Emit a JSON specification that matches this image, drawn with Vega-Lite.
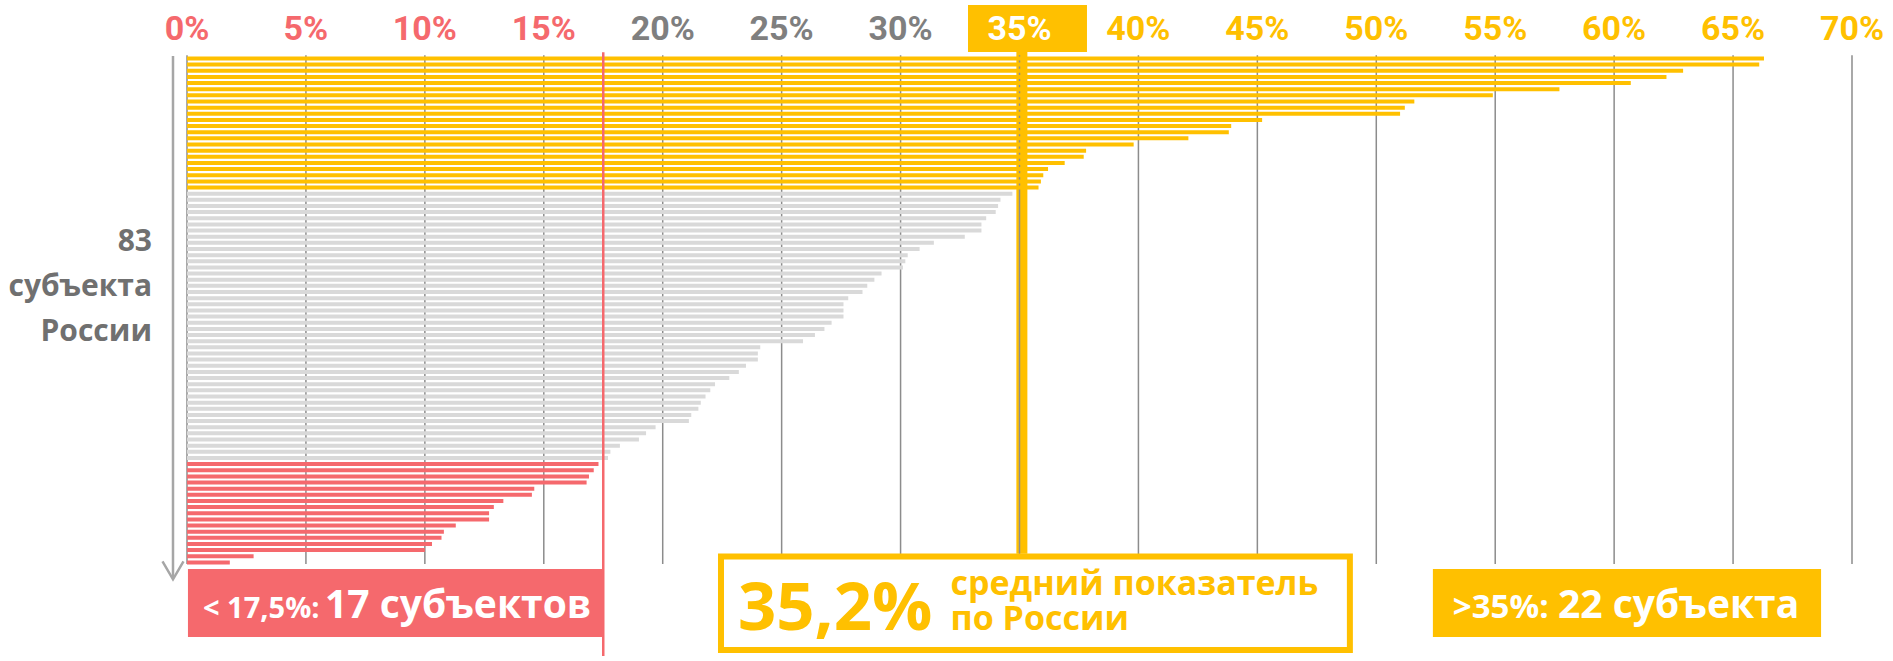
{
  "$schema": "https://vega.github.io/schema/vega-lite/v6.json",
  "width": 1893,
  "height": 661,
  "padding": 0,
  "autosize": {"type": "none"},
  "background": "white",
  "config": {"view": {"stroke": null}, "font": "Open Sans"},
  "data": {"values": [{}]},
  "datasets": {
    "bars": [
      {"rank": 1, "value": 66.3, "group": "high"},
      {"rank": 2, "value": 66.1, "group": "high"},
      {"rank": 3, "value": 62.9, "group": "high"},
      {"rank": 4, "value": 62.2, "group": "high"},
      {"rank": 5, "value": 60.7, "group": "high"},
      {"rank": 6, "value": 57.7, "group": "high"},
      {"rank": 7, "value": 54.9, "group": "high"},
      {"rank": 8, "value": 51.6, "group": "high"},
      {"rank": 9, "value": 51.2, "group": "high"},
      {"rank": 10, "value": 51.0, "group": "high"},
      {"rank": 11, "value": 45.2, "group": "high"},
      {"rank": 12, "value": 43.9, "group": "high"},
      {"rank": 13, "value": 43.8, "group": "high"},
      {"rank": 14, "value": 42.1, "group": "high"},
      {"rank": 15, "value": 39.8, "group": "high"},
      {"rank": 16, "value": 37.8, "group": "high"},
      {"rank": 17, "value": 37.7, "group": "high"},
      {"rank": 18, "value": 36.9, "group": "high"},
      {"rank": 19, "value": 36.2, "group": "high"},
      {"rank": 20, "value": 36.0, "group": "high"},
      {"rank": 21, "value": 35.9, "group": "high"},
      {"rank": 22, "value": 35.8, "group": "high"},
      {"rank": 23, "value": 34.7, "group": "mid"},
      {"rank": 24, "value": 34.2, "group": "mid"},
      {"rank": 25, "value": 34.1, "group": "mid"},
      {"rank": 26, "value": 34.0, "group": "mid"},
      {"rank": 27, "value": 33.6, "group": "mid"},
      {"rank": 28, "value": 33.4, "group": "mid"},
      {"rank": 29, "value": 33.4, "group": "mid"},
      {"rank": 30, "value": 32.7, "group": "mid"},
      {"rank": 31, "value": 31.4, "group": "mid"},
      {"rank": 32, "value": 30.8, "group": "mid"},
      {"rank": 33, "value": 30.3, "group": "mid"},
      {"rank": 34, "value": 30.2, "group": "mid"},
      {"rank": 35, "value": 30.1, "group": "mid"},
      {"rank": 36, "value": 29.2, "group": "mid"},
      {"rank": 37, "value": 28.9, "group": "mid"},
      {"rank": 38, "value": 28.6, "group": "mid"},
      {"rank": 39, "value": 28.4, "group": "mid"},
      {"rank": 40, "value": 27.8, "group": "mid"},
      {"rank": 41, "value": 27.6, "group": "mid"},
      {"rank": 42, "value": 27.6, "group": "mid"},
      {"rank": 43, "value": 27.6, "group": "mid"},
      {"rank": 44, "value": 27.1, "group": "mid"},
      {"rank": 45, "value": 26.8, "group": "mid"},
      {"rank": 46, "value": 26.4, "group": "mid"},
      {"rank": 47, "value": 25.9, "group": "mid"},
      {"rank": 48, "value": 24.1, "group": "mid"},
      {"rank": 49, "value": 24.0, "group": "mid"},
      {"rank": 50, "value": 24.0, "group": "mid"},
      {"rank": 51, "value": 23.5, "group": "mid"},
      {"rank": 52, "value": 23.2, "group": "mid"},
      {"rank": 53, "value": 22.8, "group": "mid"},
      {"rank": 54, "value": 22.2, "group": "mid"},
      {"rank": 55, "value": 22.0, "group": "mid"},
      {"rank": 56, "value": 21.8, "group": "mid"},
      {"rank": 57, "value": 21.6, "group": "mid"},
      {"rank": 58, "value": 21.5, "group": "mid"},
      {"rank": 59, "value": 21.2, "group": "mid"},
      {"rank": 60, "value": 21.1, "group": "mid"},
      {"rank": 61, "value": 19.7, "group": "mid"},
      {"rank": 62, "value": 19.3, "group": "mid"},
      {"rank": 63, "value": 19.0, "group": "mid"},
      {"rank": 64, "value": 18.2, "group": "mid"},
      {"rank": 65, "value": 17.8, "group": "mid"},
      {"rank": 66, "value": 17.7, "group": "mid"},
      {"rank": 67, "value": 17.3, "group": "low"},
      {"rank": 68, "value": 17.1, "group": "low"},
      {"rank": 69, "value": 16.9, "group": "low"},
      {"rank": 70, "value": 16.8, "group": "low"},
      {"rank": 71, "value": 14.6, "group": "low"},
      {"rank": 72, "value": 14.5, "group": "low"},
      {"rank": 73, "value": 13.3, "group": "low"},
      {"rank": 74, "value": 12.9, "group": "low"},
      {"rank": 75, "value": 12.7, "group": "low"},
      {"rank": 76, "value": 12.7, "group": "low"},
      {"rank": 77, "value": 11.3, "group": "low"},
      {"rank": 78, "value": 10.8, "group": "low"},
      {"rank": 79, "value": 10.7, "group": "low"},
      {"rank": 80, "value": 10.3, "group": "low"},
      {"rank": 81, "value": 10.0, "group": "low"},
      {"rank": 82, "value": 2.8, "group": "low"},
      {"rank": 83, "value": 1.8, "group": "low"}
    ],
    "ticks": [
      {"v": 0, "label": "0%"}, {"v": 5, "label": "5%"}, {"v": 10, "label": "10%"}, {"v": 15, "label": "15%"},
      {"v": 20, "label": "20%"}, {"v": 25, "label": "25%"}, {"v": 30, "label": "30%"}, {"v": 35, "label": "35%"},
      {"v": 40, "label": "40%"}, {"v": 45, "label": "45%"}, {"v": 50, "label": "50%"}, {"v": 55, "label": "55%"},
      {"v": 60, "label": "60%"}, {"v": 65, "label": "65%"}, {"v": 70, "label": "70%"}
    ]
  },
  "layer": [
    {
      "mark": {"type": "rule", "color": "#FFC000", "strokeWidth": 11},
      "encoding": {
        "x": {"datum": 35.1, "type": "quantitative", "scale": {"domain": [-7.862, 71.724], "nice": false, "zero": false}, "axis": null},
        "y": {"datum": -0.06, "type": "quantitative", "scale": {"domain": [-7.702, 98.228], "reverse": true, "nice": false, "zero": false}, "axis": null},
        "y2": {"datum": 81.6}
      }
    },
    {
      "data": {"name": "ticks"},
      "mark": {"type": "rule", "color": "#8C8C8C", "strokeWidth": 1.5},
      "encoding": {
        "x": {"field": "v", "type": "quantitative"},
        "y": {"datum": 0.47, "type": "quantitative"},
        "y2": {"datum": 83.24}
      }
    },
    {
      "data": {"name": "bars"},
      "mark": {"type": "bar", "orient": "horizontal", "size": 4},
      "encoding": {
        "x": {"field": "value", "type": "quantitative"},
        "y": {"field": "rank", "type": "quantitative"},
        "color": {
          "field": "group", "type": "nominal",
          "scale": {"domain": ["high", "mid", "low"], "range": ["#FFC000", "#D9D9D9", "#F5696D"]},
          "legend": null
        }
      }
    },
    {
      "mark": {"type": "rule", "color": "#F5696D", "strokeWidth": 2.5},
      "encoding": {
        "x": {"datum": 17.5, "type": "quantitative"},
        "y": {"datum": -0.01, "type": "quantitative"},
        "y2": {"datum": 98.228}
      }
    },
    {
      "mark": {"type": "rect", "color": "#FFC000"},
      "encoding": {
        "x": {"datum": 32.835, "type": "quantitative"},
        "x2": {"datum": 37.837},
        "y": {"datum": -7.702, "type": "quantitative"},
        "y2": {"datum": -0.058}
      }
    },
    {
      "data": {"name": "ticks"},
      "mark": {"type": "text", "align": "center", "baseline": "alphabetic", "font": "Roboto", "fontSize": 34, "fontWeight": "bold"},
      "encoding": {
        "x": {"field": "v", "type": "quantitative"},
        "y": {"datum": -2.01, "type": "quantitative"},
        "text": {"field": "label", "type": "nominal"},
        "color": {
          "condition": [
            {"test": "datum.v < 17.5", "value": "#F5696D"},
            {"test": "datum.v < 34", "value": "#7F7F7F"},
            {"test": "datum.v < 36", "value": "#FFFFFF"}
          ],
          "value": "#FFC000"
        }
      }
    },
    {
      "mark": {"type": "rule", "color": "#A6A6A6", "strokeWidth": 2.5},
      "encoding": {
        "x": {"datum": -0.589, "type": "quantitative"},
        "y": {"datum": 0.583, "type": "quantitative"},
        "y2": {"datum": 85.4}
      }
    },
    {
      "mark": {"type": "point", "shape": "M-1,-0.85L0,0.85L1,-0.85", "filled": false, "stroke": "#A6A6A6", "strokeWidth": 2.5, "size": 441, "opacity": 1},
      "encoding": {
        "x": {"datum": -0.589, "type": "quantitative"},
        "y": {"datum": 84.29, "type": "quantitative"}
      }
    },
    {
      "mark": {"type": "text", "text": ["83", "субъекта", "России"], "align": "right", "baseline": "alphabetic", "lineHeight": 45, "font": "Open Sans", "fontSize": 30, "fontWeight": "bold", "color": "#707070"},
      "encoding": {
        "x": {"datum": -1.471, "type": "quantitative"},
        "y": {"datum": 32.36, "type": "quantitative"}
      }
    },
    {
      "mark": {"type": "rect", "color": "#F5696D"},
      "encoding": {
        "x": {"datum": 0.04, "type": "quantitative"},
        "x2": {"datum": 17.53},
        "y": {"datum": 84.08, "type": "quantitative"},
        "y2": {"datum": 95.13}
      }
    },
    {
      "mark": {"type": "text", "text": "< 17,5%:", "align": "left", "baseline": "alphabetic", "font": "Open Sans", "fontSize": 29, "fontWeight": "bold", "color": "white"},
      "encoding": {
        "x": {"datum": 0.673, "type": "quantitative"},
        "y": {"datum": 91.98, "type": "quantitative"}
      }
    },
    {
      "mark": {"type": "text", "text": "17 субъектов", "align": "left", "baseline": "alphabetic", "font": "Open Sans", "fontSize": 39, "fontWeight": "bold", "color": "white"},
      "encoding": {
        "x": {"datum": 5.8, "type": "quantitative"},
        "y": {"datum": 92.0, "type": "quantitative"}
      }
    },
    {
      "mark": {"type": "rect", "fill": "white", "stroke": "#FFC000", "strokeWidth": 6},
      "encoding": {
        "x": {"datum": 22.45, "type": "quantitative"},
        "x2": {"datum": 48.89},
        "y": {"datum": 82.04, "type": "quantitative"},
        "y2": {"datum": 97.27}
      }
    },
    {
      "mark": {"type": "text", "text": "35,2%", "align": "left", "baseline": "alphabetic", "font": "Open Sans", "fontSize": 67, "fontWeight": "bold", "color": "#FFC000"},
      "encoding": {
        "x": {"datum": 23.165, "type": "quantitative"},
        "y": {"datum": 94.06, "type": "quantitative"}
      }
    },
    {
      "mark": {"type": "text", "text": ["средний показатель", "по России"], "align": "left", "baseline": "alphabetic", "lineHeight": 35, "font": "Open Sans", "fontSize": 34, "fontWeight": "bold", "color": "#FFC000"},
      "encoding": {
        "x": {"datum": 32.1, "type": "quantitative"},
        "y": {"datum": 88.3, "type": "quantitative"}
      }
    },
    {
      "mark": {"type": "rect", "color": "#FFC000"},
      "encoding": {
        "x": {"datum": 52.38, "type": "quantitative"},
        "x2": {"datum": 68.7},
        "y": {"datum": 84.08, "type": "quantitative"},
        "y2": {"datum": 95.13}
      }
    },
    {
      "mark": {"type": "text", "text": ">35%:", "align": "left", "baseline": "alphabetic", "font": "Open Sans", "fontSize": 33, "fontWeight": "bold", "color": "white"},
      "encoding": {
        "x": {"datum": 53.22, "type": "quantitative"},
        "y": {"datum": 91.98, "type": "quantitative"}
      }
    },
    {
      "mark": {"type": "text", "text": "22 субъекта", "align": "left", "baseline": "alphabetic", "font": "Open Sans", "fontSize": 39, "fontWeight": "bold", "color": "white"},
      "encoding": {
        "x": {"datum": 57.64, "type": "quantitative"},
        "y": {"datum": 92.0, "type": "quantitative"}
      }
    }
  ]
}
